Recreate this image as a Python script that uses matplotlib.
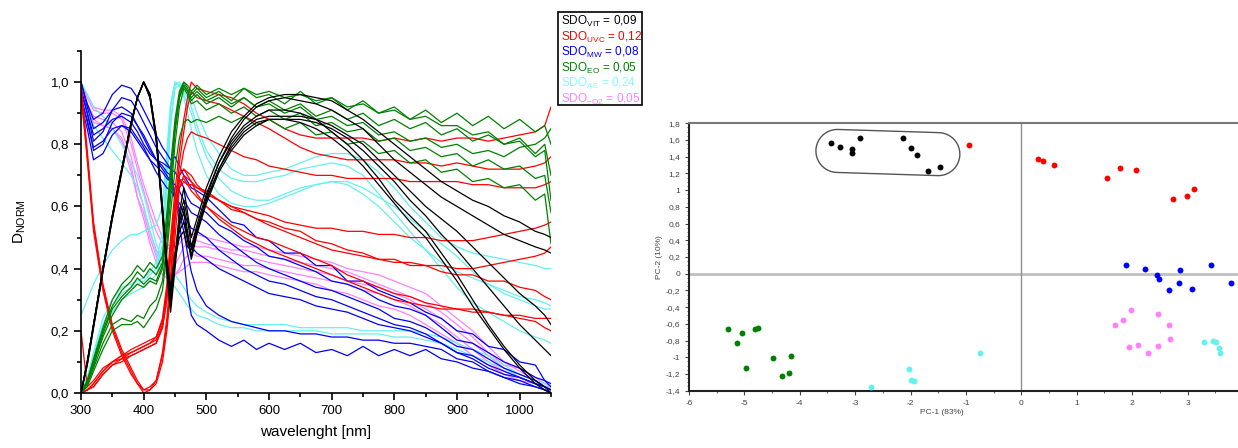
import numpy as np
import matplotlib
matplotlib.use('Agg')
import matplotlib.pyplot as plt
import matplotlib.transforms as mtransforms
from matplotlib.ticker import MultipleLocator, FuncFormatter
from matplotlib.path import Path
from matplotlib.patches import PathPatch, Rectangle

plt.rcParams['font.family'] = ['Liberation Sans', 'DejaVu Sans']

# wavelength grid [nm]
wl = [300, 310, 320, 335, 350, 365, 380, 390, 400,
      410, 420, 430, 437, 443, 450, 457, 464, 470, 476, 485, 500,
      520, 540, 560, 580, 600, 625, 650, 675, 700, 725, 750,
      775, 800, 825, 850, 875, 900, 925, 950, 975, 1000, 1025, 1040, 1050]

# normalised spectra, values x100
sdo_vit = [
    [0, 10, 22, 40, 57, 72, 87, 95, 100, 96, 82, 58, 40, 28, 42, 58, 66, 58, 50, 56, 66,
     76, 84, 89, 93, 95, 96, 96, 95, 94, 91, 88, 84, 80, 76, 72, 68, 65, 62, 60, 57, 55, 52, 51, 50],
    [0, 9, 21, 39, 56, 71, 86, 95, 100, 96, 83, 60, 42, 32, 44, 57, 62, 56, 47, 54, 64,
     74, 82, 88, 92, 94, 95, 94, 93, 91, 88, 85, 80, 75, 71, 67, 63, 60, 57, 54, 51, 49, 47, 46, 45],
    [0, 10, 22, 40, 57, 72, 87, 95, 100, 95, 81, 57, 38, 26, 40, 55, 60, 52, 44, 52, 62,
     72, 80, 85, 88, 89, 89, 89, 88, 86, 83, 80, 75, 70, 65, 60, 56, 52, 47, 42, 37, 32, 28, 25, 22],
    [0, 10, 22, 40, 57, 72, 87, 95, 100, 96, 82, 59, 41, 30, 42, 54, 58, 50, 43, 51, 61,
     71, 78, 83, 86, 88, 88, 88, 87, 85, 82, 78, 73, 68, 62, 57, 51, 46, 40, 34, 28, 22, 17, 14, 12],
    [0, 10, 22, 40, 57, 72, 87, 95, 100, 96, 83, 60, 43, 34, 45, 52, 55, 49, 44, 52, 63,
     74, 81, 86, 89, 91, 91, 90, 88, 84, 80, 75, 69, 62, 57, 52, 45, 38, 30, 22, 15, 9, 4, 2, 1],
    [0, 9, 21, 39, 56, 71, 86, 95, 100, 95, 82, 58, 41, 31, 43, 50, 52, 47, 46, 53, 62,
     72, 79, 84, 87, 88, 88, 87, 85, 82, 78, 73, 67, 61, 55, 50, 43, 36, 28, 21, 14, 8, 3, 1, 0],
]
sdo_uvc = [
    [100, 78, 55, 35, 22, 14, 8, 4, 1, 2, 4, 12, 22, 35, 55, 70, 72, 71, 70, 67, 64,
     62, 59, 58, 56, 55, 53, 52, 49, 48, 46, 45, 43, 43, 41, 41, 39, 38, 38, 36, 36, 34, 33, 31, 30],
    [98, 75, 52, 33, 20, 12, 6, 3, 0, 1, 3, 10, 20, 32, 50, 66, 70, 69, 68, 64, 60,
     57, 54, 52, 50, 49, 47, 45, 43, 41, 38, 36, 34, 32, 31, 29, 28, 27, 27, 26, 25, 24, 23, 21, 20],
    [95, 76, 54, 34, 21, 13, 7, 3, 1, 1, 4, 13, 24, 38, 58, 68, 69, 67, 67, 66, 64,
     62, 60, 59, 58, 57, 55, 54, 53, 53, 52, 52, 51, 51, 50, 50, 49, 49, 49, 50, 51, 52, 53, 54, 55],
    [20, 2, 4, 8, 10, 12, 14, 15, 16, 17, 18, 24, 35, 50, 65, 78, 88, 95, 100, 98, 97,
     96, 95, 93, 90, 88, 85, 83, 82, 82, 82, 82, 81, 82, 81, 82, 81, 82, 82, 81, 82, 83, 84, 86, 92],
    [0, 1, 3, 7, 10, 11, 13, 14, 15, 16, 17, 22, 32, 46, 60, 74, 84, 92, 97, 95, 94,
     93, 91, 89, 87, 85, 82, 79, 77, 76, 75, 75, 75, 75, 74, 74, 73, 74, 73, 72, 72, 72, 73, 74, 76],
    [0, 1, 2, 6, 9, 11, 12, 13, 14, 15, 16, 21, 30, 44, 58, 70, 78, 82, 84, 83, 82,
     80, 78, 76, 75, 73, 72, 71, 70, 70, 69, 69, 69, 69, 68, 68, 68, 68, 67, 67, 66, 66, 66, 67, 68],
    [0, 1, 3, 7, 10, 12, 13, 14, 15, 16, 18, 23, 33, 47, 62, 70, 72, 70, 68, 66, 65,
     62, 60, 58, 56, 54, 52, 50, 48, 46, 45, 44, 43, 42, 42, 41, 41, 40, 40, 41, 42, 43, 44, 45, 47],
    [0, 1, 2, 6, 9, 10, 12, 13, 14, 15, 16, 21, 30, 44, 58, 66, 68, 67, 65, 63, 60,
     56, 53, 50, 48, 46, 44, 42, 40, 38, 36, 34, 32, 30, 29, 28, 27, 27, 26, 26, 25, 25, 24, 24, 24],
]
sdo_mw = [
    [100, 93, 88, 90, 96, 99, 98, 95, 91, 87, 83, 79, 77, 75, 76, 73, 70, 68, 66, 65, 63,
     59, 55, 54, 50, 49, 45, 45, 41, 41, 36, 36, 33, 31, 29, 26, 24, 20, 19, 15, 14, 10, 9, 4, 3],
    [98, 90, 81, 84, 91, 95, 94, 91, 87, 83, 79, 76, 74, 72, 71, 69, 66, 63, 61, 60, 58,
     54, 52, 49, 47, 44, 43, 41, 39, 36, 35, 33, 30, 28, 27, 25, 21, 17, 16, 13, 10, 8, 5, 4, 2],
    [95, 88, 78, 80, 87, 90, 89, 86, 83, 79, 75, 72, 70, 68, 67, 65, 62, 60, 58, 57, 55,
     51, 48, 45, 42, 40, 38, 36, 34, 33, 31, 29, 27, 24, 23, 21, 18, 15, 14, 11, 8, 6, 4, 2, 0],
    [93, 85, 75, 77, 83, 86, 85, 82, 79, 75, 71, 68, 66, 65, 63, 61, 58, 55, 53, 52, 50,
     46, 43, 40, 38, 36, 35, 33, 31, 30, 28, 26, 24, 22, 21, 19, 16, 13, 12, 9, 7, 5, 3, 2, 1],
    [100, 92, 85, 87, 91, 92, 90, 86, 82, 78, 75, 73, 71, 70, 64, 59, 55, 50, 47, 45, 43,
     40, 38, 36, 34, 32, 31, 30, 28, 27, 26, 24, 22, 21, 20, 18, 16, 13, 11, 8, 6, 5, 3, 2, 0],
    [97, 90, 83, 85, 88, 89, 87, 84, 80, 77, 75, 74, 73, 72, 64, 55, 44, 32, 25, 22, 20,
     17, 15, 17, 14, 16, 14, 16, 13, 14, 12, 15, 12, 14, 12, 14, 11, 10, 8, 7, 5, 3, 2, 1, 0],
    [95, 87, 79, 81, 85, 86, 84, 81, 78, 75, 73, 71, 69, 68, 62, 58, 52, 45, 39, 33, 28,
     25, 23, 22, 21, 20, 20, 19, 19, 18, 18, 17, 17, 16, 16, 15, 14, 11, 10, 7, 5, 4, 2, 1, 0],
]
sdo_eo = [
    [0, 4, 10, 20, 28, 33, 36, 39, 37, 40, 38, 42, 55, 70, 86, 96, 100, 98, 96, 98, 95,
     97, 94, 98, 95, 96, 93, 97, 93, 95, 91, 94, 90, 92, 88, 91, 87, 90, 86, 89, 85, 88, 84, 86, 80],
    [0, 3, 9, 18, 25, 30, 33, 35, 34, 36, 35, 40, 52, 68, 84, 95, 99, 97, 94, 96, 93,
     95, 92, 95, 92, 94, 91, 93, 89, 91, 88, 90, 86, 88, 85, 87, 83, 85, 81, 83, 80, 82, 77, 80, 70],
    [0, 3, 8, 16, 22, 24, 23, 25, 24, 28, 30, 36, 48, 63, 80, 92, 98, 96, 93, 94, 91,
     93, 90, 92, 89, 91, 88, 90, 86, 87, 84, 85, 81, 82, 78, 79, 76, 77, 73, 75, 72, 73, 69, 70, 58],
    [0, 2, 7, 14, 20, 22, 22, 23, 21, 24, 27, 33, 45, 58, 72, 82, 87, 88, 87, 88, 87,
     89, 87, 89, 86, 88, 85, 87, 83, 84, 80, 81, 77, 78, 74, 75, 71, 72, 68, 69, 66, 67, 62, 64, 48],
    [0, 4, 11, 21, 30, 35, 38, 41, 39, 42, 40, 44, 58, 73, 88, 97, 100, 99, 97, 99, 96,
     98, 96, 98, 96, 97, 95, 96, 94, 95, 92, 93, 90, 91, 88, 89, 86, 86, 83, 84, 80, 81, 76, 78, 62],
    [0, 3, 9, 19, 27, 31, 34, 37, 35, 37, 36, 41, 53, 68, 85, 95, 99, 97, 95, 97, 94,
     96, 93, 95, 92, 93, 90, 92, 88, 89, 86, 87, 83, 84, 81, 82, 79, 80, 77, 78, 76, 79, 80, 82, 85],
]
sdo_ae = [
    [0, 5, 12, 22, 28, 32, 34, 35, 36, 38, 40, 48, 70, 88, 99, 100, 98, 97, 95, 90, 83,
     77, 72, 70, 70, 71, 72, 74, 76, 77, 77, 75, 71, 66, 60, 55, 50, 47, 45, 44, 43, 42, 41, 40, 40],
    [0, 4, 11, 20, 26, 30, 32, 33, 34, 36, 38, 46, 66, 86, 98, 99, 97, 95, 92, 86, 78,
     72, 69, 68, 68, 69, 70, 72, 73, 74, 73, 70, 64, 58, 52, 46, 40, 34, 29, 26, 23, 20, 18, 17, 16],
    [0, 5, 13, 24, 30, 34, 35, 36, 37, 39, 42, 52, 74, 92, 100, 99, 96, 93, 90, 84, 76,
     69, 65, 63, 62, 62, 64, 66, 67, 68, 68, 66, 63, 60, 56, 52, 48, 44, 39, 35, 32, 30, 28, 27, 27],
    [25, 30, 35, 41, 46, 49, 51, 51, 52, 53, 54, 60, 78, 93, 100, 99, 95, 90, 85, 78, 70,
     64, 61, 60, 60, 61, 63, 65, 67, 68, 67, 64, 60, 55, 50, 46, 42, 39, 37, 35, 33, 31, 30, 29, 28],
    [100, 96, 92, 89, 85, 80, 74, 70, 64, 56, 48, 43, 41, 40, 38, 36, 34, 32, 30, 28, 26,
     24, 23, 22, 22, 22, 22, 21, 21, 21, 21, 20, 20, 20, 20, 19, 18, 16, 14, 12, 9, 6, 4, 3, 2],
    [98, 92, 86, 82, 78, 74, 70, 66, 60, 52, 45, 40, 38, 36, 34, 32, 30, 28, 27, 25, 24,
     22, 21, 21, 20, 20, 20, 20, 20, 19, 19, 19, 19, 18, 18, 17, 16, 14, 12, 10, 8, 5, 3, 2, 1],
]
sdo_o2 = [
    [100, 95, 91, 90, 90, 88, 80, 72, 65, 58, 52, 48, 47, 46, 48, 50, 52, 52, 51, 51, 50,
     49, 48, 47, 47, 46, 45, 44, 43, 42, 40, 39, 38, 36, 34, 32, 28, 24, 20, 15, 10, 7, 4, 3, 2],
    [97, 93, 89, 88, 87, 84, 76, 67, 60, 52, 46, 42, 41, 40, 41, 44, 47, 48, 48, 47, 47,
     46, 45, 44, 43, 42, 41, 40, 39, 38, 36, 35, 34, 32, 30, 27, 24, 20, 16, 12, 8, 6, 4, 2, 2],
    [95, 92, 88, 86, 85, 82, 73, 63, 56, 48, 42, 38, 37, 37, 38, 40, 43, 44, 45, 44, 44,
     43, 42, 41, 41, 40, 39, 38, 37, 36, 35, 33, 32, 30, 28, 25, 22, 18, 14, 10, 7, 5, 3, 2, 1],
    [99, 96, 92, 91, 91, 89, 82, 74, 67, 61, 55, 50, 48, 47, 47, 48, 50, 51, 50, 49, 48,
     47, 46, 46, 45, 44, 43, 42, 41, 40, 39, 37, 35, 33, 31, 29, 26, 22, 18, 13, 9, 8, 5, 3, 2],
    [96, 92, 87, 86, 85, 81, 71, 63, 58, 50, 44, 40, 39, 38, 38, 39, 40, 41, 42, 42, 42,
     41, 40, 39, 39, 38, 37, 36, 35, 33, 32, 30, 28, 27, 25, 22, 19, 16, 12, 9, 6, 4, 3, 2, 1],
]

legend_labels = ['VIT', 'UVC', 'MW', 'EO', 'AE', '-O2']
legend_values = ['0,09', '0,12', '0,08', '0,05', '0,24', '0,05']

# PCA scores (PC-1, PC-2)
pc_vit_x = [-3.44, -3.28, -3.05, -3.06, -2.91, -2.13, -1.99, -1.88, -1.69, -1.47]
pc_vit_y = [1.57, 1.52, 1.49, 1.44, 1.63, 1.62, 1.51, 1.42, 1.23, 1.28]
pc_uvc_x = [-0.94, 0.30, 0.39, 0.59, 1.55, 1.78, 2.06, 2.73, 2.99, 3.12]
pc_uvc_y = [1.54, 1.37, 1.35, 1.30, 1.14, 1.27, 1.24, 0.89, 0.93, 1.01]
pc_mw_x = [1.88, 2.24, 2.45, 2.48, 2.66, 2.84, 2.87, 3.08, 3.43, 3.78]
pc_mw_y = [0.11, 0.06, -0.02, -0.06, -0.20, -0.11, 0.05, -0.18, 0.10, -0.11]
pc_eo_x = [-5.29, -5.05, -5.14, -4.80, -4.75, -4.98, -4.48, -4.16, -4.32, -4.20]
pc_eo_y = [-0.66, -0.71, -0.83, -0.66, -0.65, -1.13, -1.01, -0.98, -1.23, -1.19]
pc_ae_x = [3.30, 3.45, 3.52, 3.56, 3.58, -0.74, -2.02, -2.00, -1.94, -2.71]
pc_ae_y = [-0.82, -0.81, -0.82, -0.89, -0.95, -0.95, -1.14, -1.27, -1.28, -1.36]
pc_o2_x = [1.98, 1.84, 1.69, 2.47, 2.67, 2.69, 1.95, 2.11, 2.28, 2.46]
pc_o2_y = [-0.44, -0.55, -0.61, -0.48, -0.61, -0.78, -0.88, -0.85, -0.95, -0.87]

c_vit, c_uvc, c_mw, c_eo, c_ae, c_o2 = 'black', '#ff0000', '#0000ff', '#008000', '#66f0f0', '#ff80ff'

fig = plt.figure(figsize=(12.38, 4.48), dpi=100)

# ---- left: spectra ----
ax = fig.add_axes([81/1238, 1 - 393/448, 470/1238, 342/448])
for rows, col in [(sdo_o2, c_o2), (sdo_ae, c_ae), (sdo_mw, c_mw),
                  (sdo_uvc, c_uvc), (sdo_eo, c_eo), (sdo_vit, c_vit)]:
    for r in rows:
        ax.plot(wl, np.array(r) / 100, color=col, lw=0.9)
ax.set_xlim(300, 1050)
ax.set_ylim(0, 1.1)
ax.spines['top'].set_visible(False)
ax.spines['right'].set_visible(False)
ax.spines['left'].set_linewidth(1.2)
ax.spines['bottom'].set_linewidth(1.2)
ax.xaxis.set_major_locator(MultipleLocator(100))
ax.xaxis.set_minor_locator(MultipleLocator(50))
ax.yaxis.set_major_locator(MultipleLocator(0.2))
ax.yaxis.set_minor_locator(MultipleLocator(0.1))
ax.yaxis.set_major_formatter(FuncFormatter(lambda v, p: ('%.1f' % v).replace('.', ',')))
ax.tick_params(which='major', direction='out', length=5, width=1.2, labelsize=9.5)
ax.tick_params(which='minor', direction='out', length=3, width=1.2)
ax.set_xlabel('wavelenght [nm]', fontsize=11, labelpad=6)
ax.set_ylabel(r'D$_{\mathregular{NORM}}$', fontsize=11, labelpad=16)

# legend box
fig.patches.append(Rectangle((558/1238, 1 - 105/448), 84/1238, 93/448,
                             transform=fig.transFigure, fill=False, lw=1.2, ec='black'))
for i, (lab, val, col) in enumerate(zip(legend_labels, legend_values,
                                        [c_vit, c_uvc, c_mw, c_eo, '#80ffff', c_o2])):
    fig.text(561/1238, 1 - (21.5 + 15.6 * i)/448,
             r'SDO$_{\mathregular{%s}}$ = %s' % (lab, val),
             color=col, fontsize=8.5, va='center', ha='left')

# ---- right: PCA scores ----
ax2 = fig.add_axes([689/1238, 1 - 391/448, 549/1238, 267.7/448])
ax2.axhline(0, color='#c0c0c0', lw=2, zorder=1)
ax2.axvline(0, color='#909090', lw=1, zorder=1)
for xs, ys, col in [(pc_vit_x, pc_vit_y, c_vit), (pc_uvc_x, pc_uvc_y, c_uvc),
                    (pc_mw_x, pc_mw_y, c_mw), (pc_eo_x, pc_eo_y, c_eo),
                    (pc_ae_x, pc_ae_y, c_ae), (pc_o2_x, pc_o2_y, c_o2)]:
    ax2.scatter(xs, ys, s=18, color=col, zorder=3, linewidths=0)
ax2.set_xlim(-6, 3.91)
ax2.set_ylim(-1.404, 1.8)

# outline around the VIT cluster (stadium shape, drawn in pixels)
L, r = 0.505, 0.215
th = np.linspace(np.pi / 2, -np.pi / 2, 30)
pts = np.vstack([
    np.column_stack([L + r * np.cos(th), r * np.sin(th)]),
    np.column_stack([-L + r * np.cos(th + np.pi), r * np.sin(th + np.pi)]),
])
pts = np.vstack([pts, pts[:1]])
trans = (mtransforms.Affine2D().rotate_deg(-1.8) + fig.dpi_scale_trans
         + mtransforms.ScaledTranslation(-2.41, 1.45, ax2.transData))
ax2.add_patch(PathPatch(Path(pts), transform=trans, fill=False, ec='#555555', lw=1, zorder=2))

ax2.xaxis.set_major_locator(MultipleLocator(1))
ax2.xaxis.set_minor_locator(MultipleLocator(0.5))
ax2.yaxis.set_major_locator(MultipleLocator(0.2))
ax2.yaxis.set_minor_locator(MultipleLocator(0.05))
fmt = FuncFormatter(lambda v, p: '0' if abs(v) < 1e-9 else ('%g' % round(v, 2)).replace('.', ','))
ax2.xaxis.set_major_formatter(fmt)
ax2.yaxis.set_major_formatter(fmt)
ax2.tick_params(which='both', direction='out', labelsize=6, labelcolor='#444444', color='#444444')
ax2.tick_params(which='major', length=3, width=0.8)
ax2.tick_params(which='minor', length=1.5, width=0.6)
for s in ['left', 'bottom']:
    ax2.spines[s].set_linewidth(1.5)
    ax2.spines[s].set_color('#222222')
ax2.spines['top'].set_linewidth(1.5)
ax2.spines['top'].set_color('#777777')
ax2.spines['right'].set_visible(False)
ax2.set_xlabel('PC-1 (83%)', fontsize=6, color='#444444')
ax2.xaxis.set_label_coords(0.46, -0.068, transform=ax2.transAxes)
ax2.set_ylabel('PC-2 (10%)', fontsize=6, color='#444444', labelpad=2)

fig.savefig('out.png', dpi=100)
